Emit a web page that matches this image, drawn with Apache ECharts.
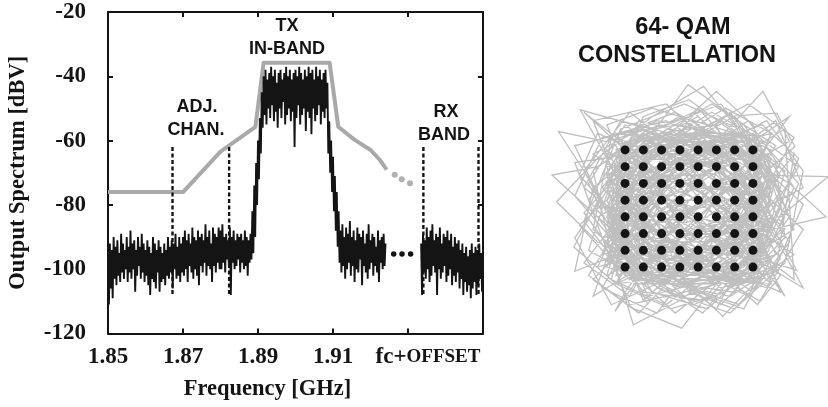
<!DOCTYPE html>
<html>
<head>
<meta charset="utf-8">
<script src="https://cdn.jsdelivr.net/npm/echarts@6/dist/echarts.min.js"></script>
<style>
  html, body { margin: 0; padding: 0; background: #fff; }
  #chart { width: 828px; height: 407px; }
</style>
</head>
<body>
<div id="chart"></div>
<script>
// ---- Spectrum: frequency grid ----
const BIN_GHZ = 0.00025;

// Measured output spectrum [dBV], one value per frequency bin
const floorLowStart = 1.85;
const floorLowDbv = [
  -95,-111,-92,-106,-94,-109,-90,-103,-93,-105,-91,-102,-95,-104,-89,-101,-92,-103,-94,-100,
  -90,-104,-93,-101,-88,-103,-92,-100,-91,-107,-94,-102,-90,-99,-93,-103,-89,-101,-92,-104,
  -94,-102,-91,-105,-93,-108,-95,-103,-90,-104,-92,-106,-94,-101,-91,-107,-93,-104,-95,-103,
  -92,-105,-94,-102,-90,-103,-93,-101,-91,-106,-92,-100,-89,-103,-93,-102,-90,-104,-92,-101,
  -90,-102,-88,-100,-91,-104,-89,-99,-92,-101,-87,-103,-90,-100,-91,-102,-88,-105,-90,-99,
  -89,-101,-91,-98,-86,-102,-90,-99,-88,-100,-92,-104,-87,-99,-89,-101,-90,-98,-87,-100,
  -88,-100,-86,-98,-90,-101,-89,-97,-91,-99,-87,-108,-90,-98,-88,-100,-91,-99,-89,-97,
  -90,-101,-89,-98,-91,-100,-88,-99,-90,-102,-91,-98,-89,-97
];
const skirtRiseStart = 1.8885;
const skirtRiseDbv = [-82,-95,-74,-90,-67,-80,-60,-72,-53,-64,-45,-56];
const inBandStart = 1.8915;
const inBandDbv = [
  -40,-52,-38,-55,-41,-50,-39,-53,-37,-49,
  -40,-54,-38,-51,-42,-56,-39,-50,-38,-53,
  -41,-48,-39,-55,-37,-52,-40,-50,-38,-54,
  -41,-51,-39,-62,-38,-53,-40,-49,-37,-55,
  -39,-52,-41,-50,-38,-57,-40,-51,-37,-53,
  -39,-58,-38,-50,-41,-54,-37,-52,-40,-49,
  -38,-55,-41,-51,-39,-53,-38,-50,-42
];
const skirtFallStart = 1.90875;
const skirtFallDbv = [-64,-54,-70,-60,-76,-65,-82,-71,-88,-76,-93,-82,-98];
const floorHighStart = 1.912;
const floorHighDbv = [
  -88,-101,-86,-99,-90,-103,-87,-100,-89,-98,
  -85,-102,-90,-99,-88,-104,-91,-100,-87,-101,
  -89,-97,-90,-105,-88,-99,-92,-101,-89,-103,
  -86,-100,-91,-98,-89,-102,-90,-99,-93,-101,
  -88,-104,-91,-98,-90,-100,-89,-99,-92
];
const rxBandStart = 1.9335;
const rxBandDbv = [
  -92,-108,-89,-101,-91,-103,-87,-100,-90,-104,
  -88,-102,-86,-99,-91,-101,-89,-108,-90,-100,
  -87,-103,-92,-101,-89,-99,-90,-104,-88,-102,
  -91,-100,-89,-105,-93,-102,-90,-104,-92,-101,
  -91,-106,-94,-103,-92,-108,-95,-104,-93,-107,
  -96,-105,-94,-109,-92,-106,-95,-104,-93,-108,
  -94,-105,-92,-103,-95,-107,-93
];

// Spectral emission mask [GHz, dBV]
const maskPoints = [
  [1.85, -76], [1.87, -76], [1.88, -63.4], [1.8893, -55.7], [1.8915, -35.8],
  [1.9091, -35.8], [1.9114, -55.7], [1.9156, -59.6], [1.9201, -63], [1.9225, -66], [1.9243, -69]
];
const maskContinuation = [[1.92645, -70.6], [1.92832, -72], [1.93053, -73.3]];
const spectrumContinuation = [[1.92618, -95.3], [1.9284, -95.3], [1.9307, -95.3]];

// Band edges of the adjacent channel and the RX band
const bandEdgesGhz = [1.8672, 1.8823, 1.9341, 1.9488];
const bandEdgeSpanDbv = [-62, -108.5];

// ---- 64-QAM constellation ----
const qamLevels = [-7, -5, -3, -1, 1, 3, 5, 7];
// Baseband I/Q trajectory between symbols, as I,Q pairs
const iqTrajectory = [
  -3,5, 4,9, 8,2, 3,-6, -5,-8, -9,-1, -6,7, 1,11, 6,6, 9,-3,
  5,-9, -2,-7, -7,1, -4,8, 2,4, 7,-1, 10,4, 6,10, -0.1,14.8, -4,9,
  -10,5, -15,4, -9,-2, -4,-10, 2,-12, 7,-7, 11,-1, 8,6, 2,8, -5,3,
  -8,-5, -3,-9, 4,-4, 9,2, 6,9, 0,7, -6,10, -11.9,11.8, -8,4, -2,-1,
  5,-5, 11.8,-7.4, 8,0, 3,6, -3,10, -9,8, -14.3,9.2, -10,2, -6,-6, 1,-10,
  6,-12, 9,-6, 4,1, -1,5, -7,8, -4,2, 3,-2, 8,-8, 3.7,-12.9, -1,-8,
  -8,-9, -12.6,-4.6, -9,3, -3,7, 4,11, 9.6,11.4, 11.6,7.4, 7,3, 1,-3, -5,-7,
  -10,-4, -14.5,0.8, -10,6, -4,11, 1.6,14.6, 5,10, 8,4, 15.2,3.8, 10,-1, 5,-6,
  -1,-11, -6.1,-13.9, -8,-7, -4,0, 2,6, 6,2, 2,-5, -4,-3, -9,3, -5,9,
  0,4, 6,-1, 10,-8, 7.8,-11.1, 3,-8, -3,-4, -7,-10, -8.1,-12.3, -4,-6, 0,1,
  6,5, 11,8, 8.1,14, 3,8, -2,3, -7,-1, -11,-8, -6,-12, -0.8,-14.3, 3,-9,
  7,-3, 15,-1, 11,3, 5,7, -1,9, -5,5, -8,-2, -2,-6, 4,-8, 9,-4,
  6,3, 0,6, -6,4, -9,-6, -3,-8, 3,-3, 7,5, 3,9, -3,8, -8,6,
  -11,1, -7,-4, -1,-6, 6,-9, 10,-5, 7,1, 3,5, -3,1, -6,-5, -2,-10,
  5,-6, 8,1, 5,8, -1,10, -7,9, -9,2, -5,-3, 2,-1, 7,3, 9,9,
  4,12, -2,8, -5,0, -1,-5, 6,-4, 10,2, 7,7, 1,3, -4,-2, -8,-9,
  -2,-12, 4,-10, 8,-5, 4,0, -2,4, -8,2, -12,-2, -7,-8, 0,-8, 6,-2,
  9,5, 5,11, 0,8, -4,4, -1,-2, 5,-7, 2,-11, -5,-10, -9,-4, -6,3,
  -1,7, 5,4, 10,-2, 12,3, 8,8, 2,10, -4,12, -9,10, -7,5, -2,-2,
  3,-7, 7,-10, 11,-4, 7,2, 1,0, -5,2, -10,-1, -6,-7, 0,-4, 4,3,
  0,9, -6,7, -3,-1, 3,-5, 9,-1, 6,6, 1,12, -3,6, -7,-3, -4,-9,
  2,-6, 8,-2, 12,5, 7,9, 2,5, -4,6, -10,9, -12,4, -8,-1, -3,-7,
  3,-12, 6,-6, 3,0, -3,3, -6,8, -1,11, 4,7, 9,1, 5,-3, -1,-3,
  -7,2, -5,-6, 1,-9, 7,-7, 10,0, 7,10, 3,14, -1,10, -5,6, -9,0,
  -5,-11, -1,-7, 5,-1, 8,6, 4,2, -2,-1, -8,-4, -11,3, -7,10, -2,6,
  2,1, 8,-3, 5,-10, -1,-9, -6,-4, -3,4, 3,8, 8,10, 12,6, 9,-2,
  3,-4, -2,2, -7,6, -5,11, 0,13, 5,9, 2,2, -4,-5, -10,-7, -7,0,
  -1,3, 5,2, 10,-6, 5,-12, 0,-10, -3,-3, 1,5, 7,8, 11,11, 6,4,
  0,-2, -6,-8, -11,-5, -8,5, -3,9, 3,10, 7,-2, 3,-9, -2,-5, -6,1,
  -9,7, -4,3, 2,-3, 6,-8, 10,-10, 8,-4, 4,4, -2,7, -6,-2, -2,-8,
  2,-3, -4,5, -8,1, -3,-6, 4,-7, 8,-1, 5,6, -1,8, -7,4, -9,-4,
  -4,-8, 3,-9, 8,-5, 7,3, 2,7, -4,9, -8,6, -6,-1, -1,-5, 5,-4,
  9,1, 6,7, 0,5, -5,1, -8,-7, -2,-9, 4,-6, 7,0, 3,4, -3,6,
  -9,5, -7,-2, -1,-3, 4,2, 8,8, 4,9, -2,4, -6,-4, -1,-8, 6,-7,
  9,-3, 5,3, -1,2, -7,-1, -9,-8, -4,-5, 2,1, 7,4, 9,9, 3,7,
  -3,9, -8,3, -5,-3, 1,-7, 7,-9, 8,-3, 3,-1, -2,5, -6,9, -9,1,
  -6,-6, 0,-6, 6,-3, 9,4, 5,8, -1,6, -5,-1, -2,-7, 4,-9, 8,-7,
  5,-1, 0,3, -6,5, -9,-3, -5,-9, 1,-5, 5,1, 2,8, -4,7, -8,0,
  -4,-4, 3,-4, 7,2, 4,6, -2,9, -7,8, -8,2, -3,-2, 3,-8, 9,-9,
  7,-4, 2,1, -3,1, -8,-5, -6,-9, 0,-9, 6,-5, 8,2, 6,9, 0,9,
  -5,5, -2,0, 4,-2, 9,-6, 5,-8, -1,-4, -7,-3, -9,4, -4,7, 2,5,
  7,7, 9,3, 4,-3, -2,-6, -8,-9, -5,-2, 1,3, 5,9, 1,6, -5,3,
  -9,-1, -6,-8, 1,-8, 6,-1, 8,5, 3,3, -3,-1, -7,-7, -1,-9, 5,-8,
  9,-1, 7,6, 1,9, -5,8, -9,3, -7,-5, -2,-4, 4,-1, 8,-8, 4,-9,
  -2,-8, -6,-2, -3,5, 3,7, 8,4, 6,-2, 0,-4, -5,-9, -9,-6, -6,1,
  -1,6, 5,5, 9,-4, 6,-9, 0,-7, -4,-1, -8,7, -3,9, 3,6, 6,0,
  3,-6, -3,-5, -8,-2, -6,4, 0,3, 6,2, 9,7, 5,9, -1,8, -7,6,
  -9,-2, -5,-7, 1,-2, 6,-6, 9,-9, 5,-5, -1,-1, -5,4, -8,9, -2,8,
  4,4, 8,-2, 6,-7, 0,-9, -6,-7, -9,-1, -5,6, 0,7, 6,8, 8,2,
  3,-2, -2,-4, -7,0, -4,7, 2,9, 7,5, 9,-1, 4,-8, -2,-9, -7,-4,
  -9,3, -6,9, 0,5, 5,-1, 7,-6, 2,-5, -3,0, -8,4, -7,-6, -2,-9,
  3,-9, 8,-4, 9,3, 4,8, -3,8, -8,5, -5,-1, 1,-4, 6,-8, 3,-3,
  -2,2, -7,8, -9,4, -4,-3, 2,-6, 7,-3, 9,5, 5,6, -1,3, -6,-2,
  -8,-8, -3,-6, 3,1, 8,6, 7,9, 1,7, -4,2, -9,-5, -5,-9, 1,-6,
  7,-8, 9,-2, 5,4, -1,8, -6,7, -8,1, -3,-3, 3,-7, 8,-5, 6,1,
  0,6, -5,9, -9,6, -6,0, -1,-6, 5,-9, 9,-7, 7,0, 2,4, -4,4,
  -8,-3, -4,-8, 2,-7, 7,-2, 9,6, 4,9, -2,6, -7,1, -9,-7, -3,-9,
  3,-5, 8,0, 6,6, 0,8, -6,3, -7,-4, -1,-7, 5,-3, 9,2, 6,8,
  0,9, -6,8, -9,0, -5,-6, 1,-9, 6,-7, 8,-1, 3,5, -3,7, -8,3,
  -6,-5, 0,-8, 6,-4, 9,3, 5,7, -1,5, -6,-1, -4,-7, 2,-9, 7,-6,
  -10.5,6.5, -3.5,10.5, 5.5,8.5, 10.5,1.5, 6.5,-7.5, -0.5,-10.5, -7.5,-6.5, -11.5,-0.5, -6.5,5.5, 0.5,2.5,
  7.5,-2.5, 11.5,-5.5, 4.5,-10.5, -4.5,-8.5, -10.5,-2.5, -8.5,8.5, -1.5,11.5, 6.5,6.5, 12.5,0.5, 8.5,-9.5,
  1.5,-6.5, -5.5,-1.5, -2.5,6.5, 3.5,10.5, 9.5,5.5, 10.5,-3.5, 3.5,-11.5, -3.5,-6.5, -9.5,0.5, -12.5,7.5,
  -5.5,9.5, 2.5,6.5, 8.5,-0.5, 4.5,-5.5, -2.5,-11.5, -8.5,-8.5, -6.5,-0.5, -10.5,10.5, -2.5,12.5, 4.5,5.5,
  10.5,9.5, 11.5,-8.5, 5.5,-3.5, -1.5,-0.5, -6.5,-10.5, -11.5,-6.5, -4.5,3.5, 1.5,9.5, 7.5,2.5, 12.5,-2.5,
  7.5,-11.5, 0.5,-4.5, -7.5,4.5, -12.5,-3.5, -8.5,-11.5, -0.5,-7.5, 5.5,0.5, 9.5,7.5, 2.5,12.5, -5.5,7.5,
  -9.5,-5.5, -2.5,-3.5, 3.5,3.5, 10.5,-10.5, 6.5,-4.5, -0.5,6.5, -6.5,11.5, -11.5,4.5, -7.5,-3.5, 0.5,-11.5,
  6.5,-8.5, 11.5,2.5, 6.5,10.5, -1.5,4.5, -8.5,-0.5, -4.5,-10.5, 2.5,-8.5, 8.5,-5.5, 4.5,3.5, -3.5,8.5,
  -10.5,2.5, -12.5,-7.5, -5.5,-4.5, 1.5,0.5, 7.5,6.5, 3.5,12.5, -3.5,9.5, -7.5,1.5, -2.5,-8.5, 5.5,-11.5,
  10.5,-6.5, 12.5,4.5, 8.5,10.5, 1.5,6.5, -4.5,0.5, -9.5,-9.5, -3.5,-12.5, 2.5,-3.5, 8.5,3.5, 5.5,9.5,
  -0.5,12.5, -7.5,9.5, -11.5,-1.5, -6.5,-8.5, 0.5,-5.5, 6.5,-0.5, 11.5,6.5, 9.5,-7.5, 3.5,-9.5, -2.5,-4.5,
  -8.5,3.5, -5.5,10.5, 1.5,8.5, 6.5,2.5, 2.5,-2.5, -4.5,-6.5, -10.5,-10.5, -7.5,-1.5, -1.5,5.5, 4.5,11.5,
  9.5,3.5, 7.5,-4.5, 1.5,-12.5, -5.5,-7.5, -12.5,1.5, -9.5,8.5, -2.5,10.5, 3.5,6.5, 10.5,-0.5, 6.5,-10.5,
  -0.5,-6.5, -6.5,2.5, -3.5,7.5, 2.5,11.5, 7.5,8.5, 11.5,-2.5, 5.5,-6.5, -1.5,-12.5, -8.5,-5.5, -10.5,4.5,
  -4.5,9.5, 0.5,3.5, 6.5,-5.5, 12.5,-9.5, 8.5,-1.5, 3.5,1.5, -2.5,-1.5, -9.5,-3.5, -6.5,-11.5, 1.5,-9.5,
  7.5,-7.5, 10.5,4.5, 4.5,8.5, -2.5,2.5, -7.5,7.5, -11.5,11.5, -4.5,5.5, 2.5,-0.5, 8.5,-8.5, 4.5,-12.5,
  -3.5,-9.5, -8.5,-2.5, -5.5,4.5, 0.5,10.5, 5.5,4.5, 9.5,-5.5, 3.5,-7.5, -4.5,-3.5, -11.5,2.5, -7.5,10.5,
  -0.5,8.5, 6.5,12.5, 11.5,8.5, 7.5,0.5, 1.5,-4.5, -5.5,-12.5, -10.5,-8.5, -3.5,-0.5, 2.5,4.5, 9.5,10.5,
  12.5,2.5, 5.5,-1.5, -0.5,-2.5, -6.5,6.5, -12.5,5.5, -8.5,-6.5, -1.5,-10.5, 4.5,-7.5, 10.5,-2.5, 6.5,5.5,
  0.5,11.5, -5.5,8.5, -9.5,2.5, -3.5,-4.5, 3.5,-5.5, 8.5,1.5, 5.5,7.5, -1.5,3.5, -7.5,-4.5, -4.5,-11.5
];

function binsToPoints(start, values) {
  return values.map((v, i) => [+(start + i * BIN_GHZ).toFixed(5), v]);
}
const mainTrace = [].concat(
  binsToPoints(floorLowStart, floorLowDbv),
  binsToPoints(skirtRiseStart, skirtRiseDbv),
  binsToPoints(inBandStart, inBandDbv),
  binsToPoints(skirtFallStart, skirtFallDbv),
  binsToPoints(floorHighStart, floorHighDbv)
);
const rxTrace = binsToPoints(rxBandStart, rxBandDbv);

const iqPoints = [];
for (let i = 0; i + 1 < iqTrajectory.length; i += 2) iqPoints.push([iqTrajectory[i], iqTrajectory[i + 1]]);
const qamPoints = [];
qamLevels.forEach(q => qamLevels.forEach(i => qamPoints.push([i, q])));

const INK = '#141414';
const SERIF = '"Liberation Serif", "Times New Roman", serif';
const SANS = '"Liberation Sans", Arial, sans-serif';

const near = (a, b) => Math.abs(a - b) < 1e-6;

const frameAxisCommon = {
  axisLine: { show: true, onZero: false, lineStyle: { color: INK, width: 2 } },
  axisTick: { show: true, inside: true, length: 5, lineStyle: { color: INK, width: 2 } },
  splitLine: { show: false }
};

const edgeSeries = bandEdgesGhz.map(f => ({
  type: 'line', xAxisIndex: 0, yAxisIndex: 0, symbol: 'none', silent: true,
  data: [[f, bandEdgeSpanDbv[0]], [f, bandEdgeSpanDbv[1]]],
  lineStyle: { color: INK, width: 2.4, type: [4, 2.5] }, z: 5
}));

const option = {
  animation: false,
  backgroundColor: '#fff',
  grid: [
    { left: 108, right: 345, top: 12, bottom: 73.5 },
    { left: 552, width: 274, top: 83, height: 251 }
  ],
  xAxis: [
    Object.assign({
      type: 'value', gridIndex: 0, min: 1.85, max: 1.95, interval: 0.02, position: 'bottom',
      name: 'Frequency [GHz]', nameLocation: 'middle', nameGap: 44,
      nameTextStyle: { fontFamily: SERIF, fontWeight: 'bold', fontSize: 22.5, color: INK, padding: [0, 56, 0, 0] },
      axisLabel: {
        margin: 12, color: INK, fontFamily: SERIF, fontWeight: 'bold', fontSize: 23,
        formatter: v => {
          if (near(v, 1.93)) return '{a|fc+}{b|OFFSET}';
          if (near(v, 1.95)) return '';
          return v.toFixed(2);
        },
        rich: {
          a: { fontFamily: SERIF, fontWeight: 'bold', fontSize: 23, color: INK, padding: [0, 0, 0, 40] },
          b: { fontFamily: SERIF, fontWeight: 'bold', fontSize: 19, color: INK }
        }
      }
    }, frameAxisCommon),
    Object.assign({
      type: 'value', gridIndex: 0, min: 1.85, max: 1.95, interval: 0.02, position: 'top',
      axisLabel: { show: false }
    }, frameAxisCommon),
    { type: 'value', gridIndex: 1, min: -15, max: 15, show: false }
  ],
  yAxis: [
    Object.assign({
      type: 'value', gridIndex: 0, min: -120, max: -20, interval: 20, position: 'left',
      name: 'Output Spectrum [dBV]', nameLocation: 'middle', nameGap: 78,
      nameTextStyle: { fontFamily: SERIF, fontWeight: 'bold', fontSize: 22.5, color: INK },
      axisLabel: { margin: 22, color: INK, fontFamily: SERIF, fontWeight: 'bold', fontSize: 23 }
    }, frameAxisCommon),
    Object.assign({
      type: 'value', gridIndex: 0, min: -120, max: -20, interval: 20, position: 'right',
      axisLabel: { show: false }
    }, frameAxisCommon),
    { type: 'value', gridIndex: 1, min: -15, max: 15, show: false }
  ],
  series: [
    {
      name: 'mask', type: 'line', xAxisIndex: 0, yAxisIndex: 0, symbol: 'none',
      data: maskPoints, lineStyle: { color: '#a9a9a9', width: 4, join: 'round', cap: 'butt' }, z: 2
    },
    {
      name: 'mask-cont', type: 'scatter', xAxisIndex: 0, yAxisIndex: 0,
      data: maskContinuation, symbolSize: 6, itemStyle: { color: '#b0b0b0', opacity: 1 }, z: 2
    },
    {
      name: 'spectrum', type: 'line', xAxisIndex: 0, yAxisIndex: 0, symbol: 'none',
      data: mainTrace, lineStyle: { color: INK, width: 1.9 }, z: 3
    },
    {
      name: 'spectrum-rx', type: 'line', xAxisIndex: 0, yAxisIndex: 0, symbol: 'none',
      data: rxTrace, lineStyle: { color: INK, width: 1.9 }, z: 3
    },
    {
      name: 'spectrum-cont', type: 'scatter', xAxisIndex: 0, yAxisIndex: 0,
      data: spectrumContinuation, symbolSize: 5.5, itemStyle: { color: INK, opacity: 1 }, z: 3
    },
    ...edgeSeries,
    {
      name: 'trajectory', type: 'line', xAxisIndex: 2, yAxisIndex: 2, symbol: 'none', clip: false,
      data: iqPoints, lineStyle: { color: '#bfbfbf', width: 1.3, join: 'miter' }, z: 2
    },
    {
      name: 'symbols', type: 'scatter', xAxisIndex: 2, yAxisIndex: 2,
      data: qamPoints, symbolSize: 9, itemStyle: { color: INK, opacity: 1 }, z: 4
    }
  ],
  graphic: [
    { type: 'text', style: { text: 'TX', x: 287, y: 26, textAlign: 'center', textVerticalAlign: 'middle', fill: INK, font: 'bold 18px ' + SANS } },
    { type: 'text', style: { text: 'IN-BAND', x: 287, y: 49, textAlign: 'center', textVerticalAlign: 'middle', fill: INK, font: 'bold 18px ' + SANS } },
    { type: 'text', style: { text: 'ADJ.', x: 197, y: 107, textAlign: 'center', textVerticalAlign: 'middle', fill: INK, font: 'bold 18px ' + SANS } },
    { type: 'text', style: { text: 'CHAN.', x: 196, y: 130, textAlign: 'center', textVerticalAlign: 'middle', fill: INK, font: 'bold 18px ' + SANS } },
    { type: 'text', style: { text: 'RX', x: 446, y: 112, textAlign: 'center', textVerticalAlign: 'middle', fill: INK, font: 'bold 18px ' + SANS } },
    { type: 'text', style: { text: 'BAND', x: 444, y: 135, textAlign: 'center', textVerticalAlign: 'middle', fill: INK, font: 'bold 18px ' + SANS } },
    { type: 'text', style: { text: '64- QAM', x: 683, y: 28, textAlign: 'center', textVerticalAlign: 'middle', fill: INK, font: 'bold 23.5px ' + SANS } },
    { type: 'text', style: { text: 'CONSTELLATION', x: 677, y: 56, textAlign: 'center', textVerticalAlign: 'middle', fill: INK, font: 'bold 23.5px ' + SANS } }
  ]
};

const chart = echarts.init(document.getElementById('chart'), null, { renderer: 'canvas', width: 828, height: 407 });
chart.setOption(option);
</script>
</body>
</html>
